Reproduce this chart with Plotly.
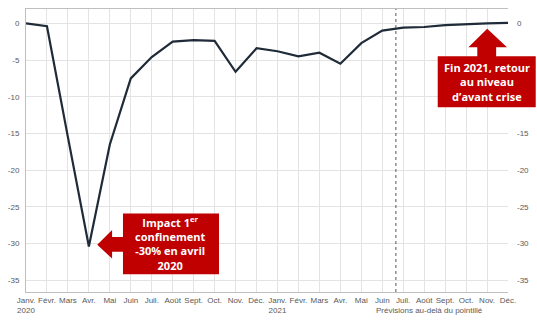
import plotly.graph_objects as go

# Monthly index of activity vs. pre-crisis level (%), Jan 2020 - Dec 2021
months = ["Janv.", "Févr.", "Mars", "Avr.", "Mai", "Juin",
          "Juil.", "Août", "Sept.", "Oct.", "Nov.", "Déc."]
years = ["2020", "2021"]
values = [0.0, -0.4, -15.5, -30.4, -16.5, -7.5, -4.6, -2.5, -2.3, -2.4, -6.6, -3.4,
          -3.8, -4.5, -4.0, -5.5, -2.7, -1.0, -0.6, -0.5, -0.25, -0.1, 0.0, 0.05]
y_ticks = [0, -5, -10, -15, -20, -25, -30, -35]
forecast_start = 17.65  # dashed separator between observed data and forecast

x = list(range(len(values)))
tick_text = []
for i in x:
    m = months[i % 12]
    if i % 12 == 0:
        m = f"{m}<br>{years[i // 12]}"
    tick_text.append(m)

LINE = "#1F2B38"
GRID = "#E3E3E3"
AXIS = "#BFBFBF"
RED = "#C00000"
TICKFONT = dict(family="Liberation Sans Narrow, Arial Narrow, sans-serif", size=8, color="#595959")

fig = go.Figure()
fig.add_trace(go.Scatter(x=x, y=values, mode="lines",
                         line=dict(color=LINE, width=2.2), showlegend=False, hoverinfo="skip"))
# transparent copy so the right-hand axis is drawn
fig.add_trace(go.Scatter(x=x, y=values, mode="lines", yaxis="y2",
                         line=dict(color="rgba(0,0,0,0)", width=0), showlegend=False, hoverinfo="skip"))

y_range = [-36.6, 1.95]
fig.update_layout(
    width=537, height=323,
    margin=dict(l=22, r=28, t=8, b=27),
    paper_bgcolor="white", plot_bgcolor="white",
    xaxis=dict(range=[0, 23], tickmode="array", tickvals=x, ticktext=tick_text,
               tickfont=TICKFONT, showgrid=True, gridcolor=GRID, gridwidth=1,
               showline=True, linecolor=AXIS, linewidth=1, mirror=True,
               ticks="", zeroline=False, tickangle=0),
    yaxis=dict(range=y_range, tickmode="array", tickvals=y_ticks,
               ticktext=[str(v) for v in y_ticks], tickfont=TICKFONT,
               showgrid=True, gridcolor=GRID, gridwidth=1, zeroline=False,
               showline=True, linecolor=AXIS, linewidth=1, ticks="", ticklabelstandoff=4),
    yaxis2=dict(range=y_range, overlaying="y", side="right", tickmode="array",
                tickvals=y_ticks, ticktext=[str(v) for v in y_ticks], tickfont=TICKFONT,
                showgrid=False, zeroline=False, showline=False, ticks="", ticklabelstandoff=8),
)

# forecast separator
fig.add_shape(type="line", xref="x", yref="paper", x0=forecast_start, x1=forecast_start,
              y0=0, y1=1, line=dict(color="#555555", width=1, dash="dot"))
fig.add_annotation(text="Prévisions au-delà du pointillé", xref="paper", yref="paper",
                   x=0.838, y=-0.066, showarrow=False, font=TICKFONT,
                   xanchor="center", yanchor="middle")


def px(xp, yp):
    """Pixel position in the 537x323 canvas -> paper coordinates."""
    return (xp - 22) / 487, (296 - yp) / 288


def path(points):
    pts = [px(a, b) for a, b in points]
    return "M " + " L ".join(f"{a:.4f},{b:.4f}" for a, b in pts) + " Z"


BOXFONT = dict(family="Open Sans, sans-serif", size=11, color="white")

# callout 1: first lockdown (arrow pointing left to the April 2020 low)
fig.add_shape(type="path", xref="paper", yref="paper", line=dict(width=0), fillcolor=RED,
              path=path([(120, 216), (217, 216), (217, 278), (120, 278), (120, 255),
                         (109, 255), (109, 262), (94, 248), (109, 233), (109, 240), (120, 240)]))
cx, cy = px(168.5, 247)
fig.add_annotation(text="<b>Impact 1<sup>er</sup><br>confinement<br>-30% en avril<br>2020</b>",
                   xref="paper", yref="paper", x=cx, y=cy, showarrow=False, align="center",
                   xanchor="center", yanchor="middle", font=BOXFONT)

# callout 2: back to pre-crisis level (arrow pointing up)
fig.add_shape(type="path", xref="paper", yref="paper", line=dict(width=0), fillcolor=RED,
              path=path([(438, 56), (478, 56), (478, 47), (469, 47), (488, 28), (508, 47),
                         (497, 47), (497, 56), (537, 56), (537, 108), (438, 108)]))
cx, cy = px(487.5, 82)
fig.add_annotation(text="<b>Fin 2021, retour<br>au niveau<br>d’avant crise</b>",
                   xref="paper", yref="paper", x=cx, y=cy, showarrow=False, align="center",
                   xanchor="center", yanchor="middle", font=BOXFONT)

fig.write_html("out.html")
